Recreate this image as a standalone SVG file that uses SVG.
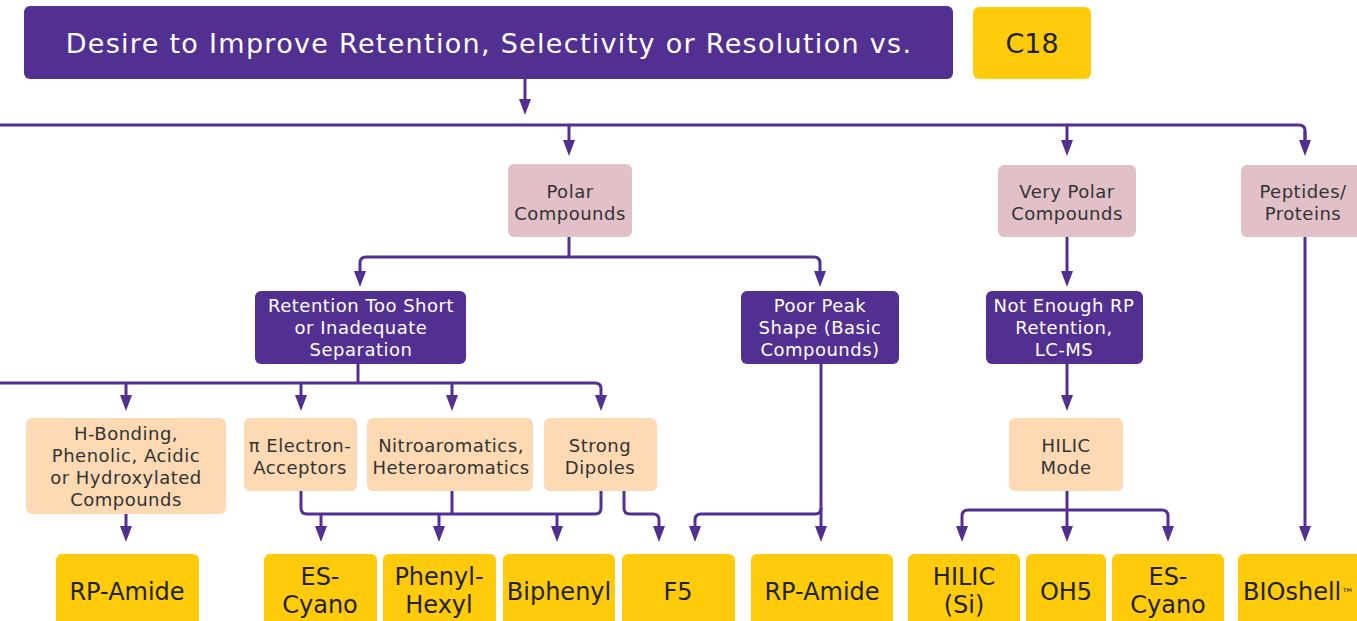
<svg xmlns="http://www.w3.org/2000/svg" width="1357" height="621" viewBox="0 0 1357 621">
<style>
.purple{fill:#523091}
.pink{fill:#E1C0C8}
.peach{fill:#FDDAB3}
.yellow{fill:#FFCB0A}
.t{font-family:"DejaVu Sans","Verdana",sans-serif;text-anchor:middle}
.w18{font-size:18px;fill:#ffffff;letter-spacing:0.5px}
.d18{font-size:18px;fill:#333333;letter-spacing:0.5px}
.d24{font-size:24px;fill:#222222}
.title{font-size:27px;fill:#ffffff;letter-spacing:1.3px}
.conn{fill:none;stroke:#523091;stroke-width:3;marker-end:url(#ah)}
.line{fill:none;stroke:#523091;stroke-width:3}
</style>
<defs>
<marker id="ah" markerUnits="userSpaceOnUse" markerWidth="16" markerHeight="12" refX="0" refY="6" orient="auto">
<path d="M0,0 L16,6 L0,12 Z" fill="#523091"/>
</marker>
</defs>
<rect width="1357" height="621" fill="#ffffff"/>

<g id="connectors">
<path class="conn" d="M525,79 V99"/>
<path class="line" d="M0,125 H1299 Q1305,125 1305,131 V140"/>
<path class="conn" d="M1305,131 V140"/>
<path class="conn" d="M569,125 V140"/>
<path class="conn" d="M1067,125 V140"/>
<path class="line" d="M569,237 V257"/>
<path class="conn" d="M569,257 H366 Q360,257 360,263 V271"/>
<path class="conn" d="M569,257 H814 Q820,257 820,263 V271"/>
<path class="conn" d="M1067,237 V271"/>
<path class="conn" d="M1067,364 V395"/>
<path class="line" d="M358,364 V383"/>
<path class="conn" d="M0,383 H595 Q601,383 601,389 V395"/>
<path class="conn" d="M126,383 V395"/>
<path class="conn" d="M301,383 V395"/>
<path class="conn" d="M452,383 V395"/>
<path class="conn" d="M126,514 V526"/>
<path class="line" d="M301,491 V508 Q301,514 307,514 H595 Q601,514 601,508 V491"/>
<path class="line" d="M452,491 V514"/>
<path class="conn" d="M321,514 V526"/>
<path class="conn" d="M439,514 V526"/>
<path class="conn" d="M557,514 V526"/>
<path class="conn" d="M624,491 V508 Q624,514 630,514 H653 Q659,514 659,520 V526"/>
<path class="conn" d="M821,364 V526"/>
<path class="conn" d="M821,508 Q821,514 815,514 H701 Q695,514 695,520 V526"/>
<path class="conn" d="M1067,491 V526"/>
<path class="conn" d="M1067,510 H968 Q962,510 962,516 V526"/>
<path class="conn" d="M1067,510 H1162 Q1168,510 1168,516 V526"/>
<path class="conn" d="M1305,237 V526"/>
</g>

<g id="n-title"><rect class="purple" x="24" y="6" width="929" height="73" rx="6"/>
<text class="t title" x="489" y="53">Desire to Improve Retention, Selectivity or Resolution vs.</text></g>
<g id="n-c18"><rect class="yellow" x="973" y="7" width="118" height="72" rx="6"/>
<text class="t d24" x="1032" y="53" style="font-size:27px">C18</text></g>

<g id="n-polar"><rect class="pink" x="508" y="164" width="124" height="73" rx="6"/>
<text class="t d18" x="570" y="198">Polar</text><text class="t d18" x="570" y="220">Compounds</text></g>
<g id="n-verypolar"><rect class="pink" x="998" y="165" width="138" height="72" rx="6"/>
<text class="t d18" x="1067" y="198">Very Polar</text><text class="t d18" x="1067" y="220">Compounds</text></g>
<g id="n-peptides"><rect class="pink" x="1241" y="165" width="130" height="72" rx="6"/>
<text class="t d18" x="1303" y="198">Peptides/</text><text class="t d18" x="1303" y="220">Proteins</text></g>

<g id="n-retention"><rect class="purple" x="255" y="291" width="211" height="73" rx="6"/>
<text class="t w18" x="361" y="312">Retention Too Short</text><text class="t w18" x="361" y="334">or Inadequate</text><text class="t w18" x="361" y="356">Separation</text></g>
<g id="n-poorpeak"><rect class="purple" x="741" y="291" width="158" height="73" rx="6"/>
<text class="t w18" x="820" y="312">Poor Peak</text><text class="t w18" x="820" y="334">Shape (Basic</text><text class="t w18" x="820" y="356">Compounds)</text></g>
<g id="n-notenough"><rect class="purple" x="986" y="291" width="157" height="73" rx="6"/>
<text class="t w18" x="1064" y="312">Not Enough RP</text><text class="t w18" x="1064" y="334">Retention,</text><text class="t w18" x="1064" y="356">LC-MS</text></g>

<g id="n-hbond"><rect class="peach" x="26" y="418" width="200" height="96" rx="6"/>
<text class="t d18" x="126" y="440">H-Bonding,</text><text class="t d18" x="126" y="462">Phenolic, Acidic</text><text class="t d18" x="126" y="484">or Hydroxylated</text><text class="t d18" x="126" y="506">Compounds</text></g>
<g id="n-pi"><rect class="peach" x="244" y="418" width="113" height="73" rx="6"/>
<text class="t d18" x="300" y="452">π Electron-</text><text class="t d18" x="300" y="474">Acceptors</text></g>
<g id="n-nitro"><rect class="peach" x="367" y="418" width="166" height="73" rx="6"/>
<text class="t d18" x="451" y="452">Nitroaromatics,</text><text class="t d18" x="451" y="474">Heteroaromatics</text></g>
<g id="n-dipoles"><rect class="peach" x="544" y="418" width="113" height="73" rx="6"/>
<text class="t d18" x="600" y="452">Strong</text><text class="t d18" x="600" y="474">Dipoles</text></g>
<g id="n-hilicmode"><rect class="peach" x="1009" y="418" width="114" height="73" rx="6"/>
<text class="t d18" x="1066" y="452">HILIC</text><text class="t d18" x="1066" y="474">Mode</text></g>

<g id="n-rpamide1"><rect class="yellow" x="56" y="554" width="143" height="80" rx="6"/>
<text class="t d24" x="127" y="600">RP-Amide</text></g>
<g id="n-escyano1"><rect class="yellow" x="264" y="554" width="113" height="80" rx="6"/>
<text class="t d24" x="320" y="585">ES-</text><text class="t d24" x="320" y="613">Cyano</text></g>
<g id="n-phenylhexyl"><rect class="yellow" x="383" y="554" width="113" height="80" rx="6"/>
<text class="t d24" x="439" y="585">Phenyl-</text><text class="t d24" x="439" y="613">Hexyl</text></g>
<g id="n-biphenyl"><rect class="yellow" x="503" y="554" width="112" height="80" rx="6"/>
<text class="t d24" x="559" y="600">Biphenyl</text></g>
<g id="n-f5"><rect class="yellow" x="622" y="554" width="113" height="80" rx="6"/>
<text class="t d24" x="678" y="600">F5</text></g>
<g id="n-rpamide2"><rect class="yellow" x="751" y="554" width="142" height="80" rx="6"/>
<text class="t d24" x="822" y="600">RP-Amide</text></g>
<g id="n-hilicsi"><rect class="yellow" x="908" y="554" width="112" height="80" rx="6"/>
<text class="t d24" x="964" y="585">HILIC</text><text class="t d24" x="964" y="613">(Si)</text></g>
<g id="n-oh5"><rect class="yellow" x="1026" y="554" width="80" height="80" rx="6"/>
<text class="t d24" x="1066" y="600">OH5</text></g>
<g id="n-escyano2"><rect class="yellow" x="1112" y="554" width="112" height="80" rx="6"/>
<text class="t d24" x="1168" y="585">ES-</text><text class="t d24" x="1168" y="613">Cyano</text></g>
<g id="n-bioshell"><rect class="yellow" x="1238" y="554" width="140" height="80" rx="6"/>
<text class="t d24" x="1243" y="600" style="text-anchor:start">BIOshell<tspan style="font-size:13px" dy="-2">™</tspan></text></g>
</svg>
